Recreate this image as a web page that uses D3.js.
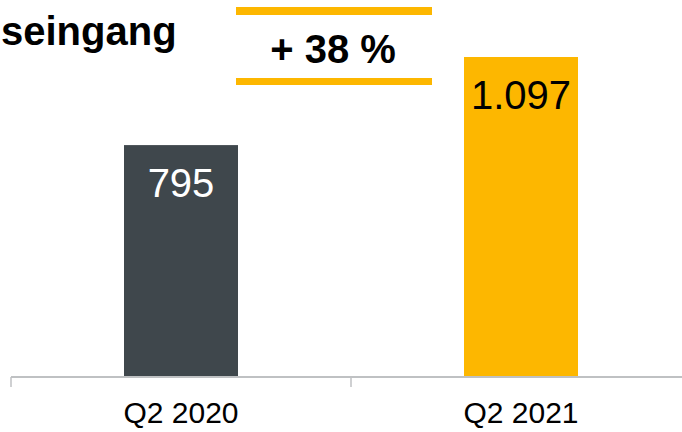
<!DOCTYPE html>
<html>
<head>
<meta charset="utf-8" />
<script src="https://d3js.org/d3.v7.min.js"></script>
<style>
  body { margin: 0; background: #fff; }
  text { font-family: "Liberation Sans", Arial, sans-serif; }
</style>
</head>
<body>
<svg id="chart"></svg>
<script>
// data
var categories = ["Q2 2020", "Q2 2021"];
var values = [795, 1097];
var valueLabels = ["795", "1.097"];
var barColors = ["#3f474c", "#fdb700"];
var labelColors = ["#ffffff", "#000000"];
var title = "seingang";
var growthLabel = "+ 38 %";

var width = 682, height = 432;
var baseY = 377;

var svg = d3.select("#chart")
  .attr("width", width)
  .attr("height", height);

var x = d3.scaleBand()
  .domain(categories)
  .range([11, 691])
  .paddingInner(0)
  .paddingOuter(0);

var y = d3.scaleLinear()
  .domain([0, 1097])
  .range([baseY, 57]);

var barW = 114;

// bars
svg.selectAll(".bar")
  .data(values)
  .enter().append("rect")
  .attr("class", "bar")
  .attr("x", function(d, i) { return x(categories[i]) + x.bandwidth() / 2 - barW / 2; })
  .attr("y", function(d) { return y(d); })
  .attr("width", barW)
  .attr("height", function(d) { return baseY - y(d); })
  .attr("fill", function(d, i) { return barColors[i]; });

// value labels
svg.selectAll(".val")
  .data(values)
  .enter().append("text")
  .attr("class", "val")
  .attr("x", function(d, i) { return x(categories[i]) + x.bandwidth() / 2; })
  .attr("y", function(d) { return y(d) + 52; })
  .attr("text-anchor", "middle")
  .attr("font-size", 40)
  .attr("fill", function(d, i) { return labelColors[i]; })
  .text(function(d, i) { return valueLabels[i]; });

// axis
var axisG = svg.append("g").attr("transform", "translate(0," + baseY + ")");
axisG.append("line")
  .attr("x1", 11).attr("x2", width)
  .attr("stroke", "#bfc1c3").attr("stroke-width", 2);
axisG.selectAll(".tick")
  .data(categories)
  .enter().append("line")
  .attr("x1", function(d) { return x(d); })
  .attr("x2", function(d) { return x(d); })
  .attr("y1", 0).attr("y2", 10)
  .attr("stroke", "#bfc1c3").attr("stroke-width", 1.5);
axisG.selectAll(".cat")
  .data(categories)
  .enter().append("text")
  .attr("x", function(d) { return x(d) + x.bandwidth() / 2; })
  .attr("y", 46)
  .attr("text-anchor", "middle")
  .attr("font-size", 30)
  .attr("fill", "#000")
  .text(function(d) { return d; });

// title
svg.append("text")
  .attr("x", 1)
  .attr("y", 45)
  .attr("font-size", 40)
  .attr("font-weight", "bold")
  .attr("fill", "#000")
  .text(title);

// growth marker
svg.append("rect").attr("x", 236).attr("y", 7).attr("width", 196).attr("height", 8).attr("fill", "#fdb700");
svg.append("rect").attr("x", 236).attr("y", 78).attr("width", 196).attr("height", 7).attr("fill", "#fdb700");
svg.append("text")
  .attr("x", 333)
  .attr("y", 63)
  .attr("text-anchor", "middle")
  .attr("font-size", 40)
  .attr("font-weight", "bold")
  .attr("fill", "#000")
  .text(growthLabel);
</script>
</body>
</html>
